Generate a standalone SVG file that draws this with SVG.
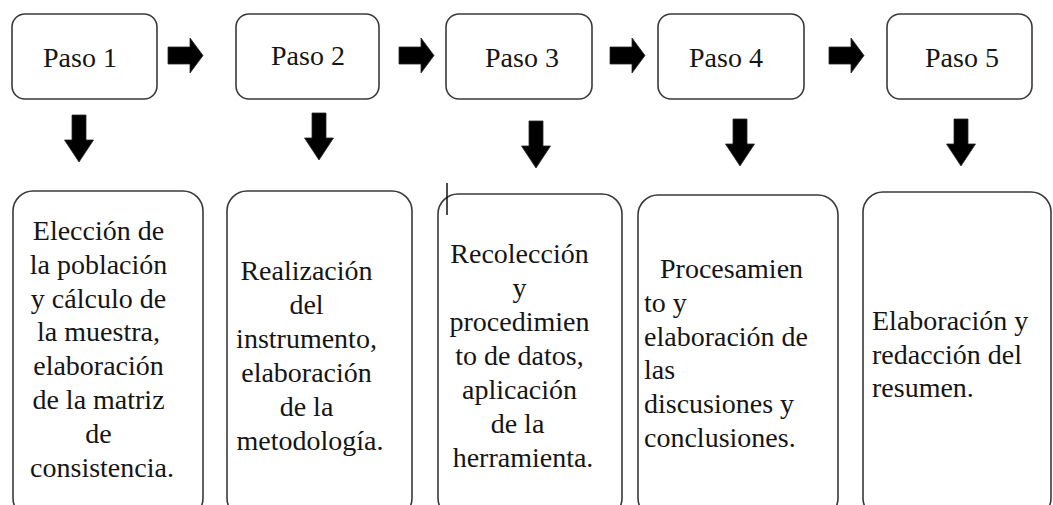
<svg xmlns="http://www.w3.org/2000/svg" xmlns:xlink="http://www.w3.org/1999/xlink" width="1053" height="505" viewBox="0 0 1053 505">
  <style>
    .box { fill: #ffffff; stroke: #3a3a3a; stroke-width: 1.6; }
    .t { font-family: "Liberation Serif", Tinos, "DejaVu Serif", serif; font-size: 28px; fill: #151515; }
    .c { text-anchor: middle; }
    .arr { fill: #000000; stroke: #2a2a2a; stroke-width: 0.8; }
  </style>
  <defs>
    <path id="rightArrow" d="M0,-8.5 H22 V-17.5 L35,0 L22,17.5 V8.5 H0 Z"/>
    <path id="downArrow" d="M-7,0 H7 V25 H14.5 L0,47 L-14.5,25 H-7 Z"/>
  </defs>
  <rect width="1053" height="505" fill="#ffffff"/>

  <g id="paso1">
    <rect class="box" x="12" y="14" width="145" height="85" rx="13"/>
    <text class="t c" font-family="Liberation Serif, serif" x="80" y="67">Paso 1</text>
  </g>
  <g id="paso2">
    <rect class="box" x="236" y="14" width="143" height="85" rx="13"/>
    <text class="t c" x="308" y="65">Paso 2</text>
  </g>
  <g id="paso3">
    <rect class="box" x="446" y="14" width="146" height="85" rx="13"/>
    <text class="t c" x="522" y="67">Paso 3</text>
  </g>
  <g id="paso4">
    <rect class="box" x="658" y="14" width="146" height="85" rx="13"/>
    <text class="t c" x="726" y="67">Paso 4</text>
  </g>
  <g id="paso5">
    <rect class="box" x="887" y="14" width="145" height="85" rx="13"/>
    <text class="t c" x="962" y="67">Paso 5</text>
  </g>

  <g id="detalle1">
    <rect class="box" x="13" y="191" width="190" height="327" rx="20"/>
    <text class="t c" x="102">
      <tspan x="102" y="240">Elección de</tspan>
      <tspan x="102" y="273.8">la población</tspan>
      <tspan x="102" y="307.6">y cálculo de</tspan>
      <tspan x="102" y="341.4">la muestra,</tspan>
      <tspan x="102" y="375.2">elaboración</tspan>
      <tspan x="102" y="409">de la matriz</tspan>
      <tspan x="102" y="442.8">de</tspan>
      <tspan x="102" y="476.6">consistencia.</tspan>
    </text>
  </g>
  <g id="detalle2">
    <rect class="box" x="227" y="191" width="185" height="327" rx="20"/>
    <text class="t c" x="310">
      <tspan x="310" y="280">Realización</tspan>
      <tspan x="310" y="314">del</tspan>
      <tspan x="310" y="348">instrumento,</tspan>
      <tspan x="310" y="382">elaboración</tspan>
      <tspan x="310" y="416">de la</tspan>
      <tspan x="310" y="450">metodología.</tspan>
    </text>
  </g>
  <g id="detalle3">
    <rect class="box" x="438" y="194" width="184" height="324" rx="20"/>
    <text class="t c" x="523">
      <tspan x="523" y="263">Recolección</tspan>
      <tspan x="523" y="297">y</tspan>
      <tspan x="523" y="331">procedimien</tspan>
      <tspan x="523" y="365">to de datos,</tspan>
      <tspan x="523" y="399">aplicación</tspan>
      <tspan x="521" y="433">de la</tspan>
      <tspan x="523" y="467">herramienta.</tspan>
    </text>
    <line x1="447" y1="183" x2="447" y2="215" stroke="#000000" stroke-width="1.4"/>
  </g>
  <g id="detalle4">
    <rect class="box" x="638" y="195" width="200" height="323" rx="20"/>
    <text class="t">
      <tspan x="660" y="278">Procesamien</tspan>
      <tspan x="644" y="311.8">to y</tspan>
      <tspan x="644" y="345.6">elaboración de</tspan>
      <tspan x="644" y="379.4">las</tspan>
      <tspan x="644" y="413.2">discusiones y</tspan>
      <tspan x="644" y="447">conclusiones.</tspan>
    </text>
  </g>
  <g id="detalle5">
    <rect class="box" x="863" y="192" width="188" height="326" rx="20"/>
    <text class="t">
      <tspan x="872" y="330">Elaboración y</tspan>
      <tspan x="872" y="363.5">redacción del</tspan>
      <tspan x="872" y="397">resumen.</tspan>
    </text>
  </g>

  <g id="connectors">
    <use href="#rightArrow" xlink:href="#rightArrow" class="arr" transform="translate(168,55.5)"/>
    <use href="#rightArrow" xlink:href="#rightArrow" class="arr" transform="translate(399,55.5)"/>
    <use href="#rightArrow" xlink:href="#rightArrow" class="arr" transform="translate(610,55.5)"/>
    <use href="#rightArrow" xlink:href="#rightArrow" class="arr" transform="translate(829,55.5)"/>
    <use href="#downArrow" xlink:href="#downArrow" class="arr" transform="translate(79,115)"/>
    <use href="#downArrow" xlink:href="#downArrow" class="arr" transform="translate(319,113)"/>
    <use href="#downArrow" xlink:href="#downArrow" class="arr" transform="translate(536,121)"/>
    <use href="#downArrow" xlink:href="#downArrow" class="arr" transform="translate(740,119)"/>
    <use href="#downArrow" xlink:href="#downArrow" class="arr" transform="translate(961,119)"/>
  </g>
</svg>
